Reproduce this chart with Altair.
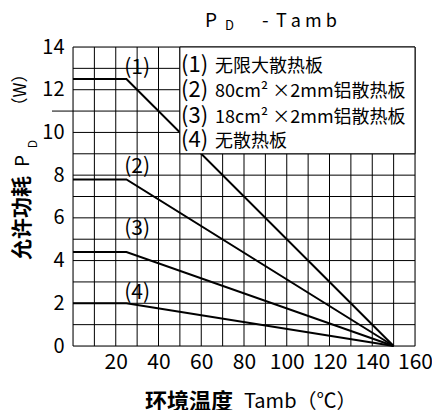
import altair as alt
import pandas as pd

# ---- data ----
temps = [0, 25, 150]
series_names = ["(1)", "(2)", "(3)", "(4)"]
series_flat = [12.5, 7.8, 4.4, 2.0]   # PD value on the flat part (W)
label_x = [30, 30, 30, 30]
label_y = [13.0, 8.4, 5.5, 2.5]
legend_keys = ["(1)", "(2)", "(3)", "(4)"]
legend_desc = ["无限大散热板", "80cm² ×2mm铝散热板", "18cm² ×2mm铝散热板", "无散热板"]
x_ticks = [20, 40, 60, 80, 100, 120, 140, 160]
y_ticks = [0, 2, 4, 6, 8, 10, 12, 14]
x_grid = list(range(0, 161, 10))
y_grid = list(range(0, 15))
box = {"x": 50, "x2": 160, "y": 9, "y2": 14}

FONT = "Noto Sans CJK SC"

rows = []
for name, v in zip(series_names, series_flat):
    for t, p in zip(temps, [v, v, 0]):
        rows.append({"s": name, "t": t, "p": p})
curves = pd.DataFrame(rows)

xs = alt.Scale(domain=[0, 160], nice=False)
ys = alt.Scale(domain=[0, 14], nice=False)

xaxis = alt.Axis(values=x_ticks, grid=False, ticks=False, domain=False, title=None,
                 labelFont=FONT, labelFontSize=21, labelColor="black", labelPadding=5,
                 labelOverlap=False, labelBound=False, labelFlush=False)
yaxis = alt.Axis(values=y_ticks, grid=False, ticks=False, domain=False, title=None,
                 labelFont=FONT, labelFontSize=20, labelColor="black", labelPadding=9,
                 labelOverlap=False, labelFlush=False)

vgrid = alt.Chart(pd.DataFrame({"g": x_grid})).mark_rule(color="black", strokeWidth=1).encode(
    x=alt.X("g:Q", scale=xs, axis=xaxis), y=alt.datum(0), y2=alt.datum(14))
hgrid = alt.Chart(pd.DataFrame({"g": y_grid})).mark_rule(color="black", strokeWidth=1).encode(
    y=alt.Y("g:Q", scale=ys, axis=yaxis), x=alt.datum(0), x2=alt.datum(160))
extra = alt.Chart(pd.DataFrame({"g": [11]})).mark_rule(color="black", strokeWidth=1).encode(
    y=alt.Y("g:Q", scale=ys), x=alt.value(-21), x2=alt.value(0))

lines = alt.Chart(curves).mark_line(color="black", strokeWidth=2).encode(
    x=alt.X("t:Q", scale=xs), y=alt.Y("p:Q", scale=ys), detail="s:N")

boxc = alt.Chart(pd.DataFrame([box])).mark_rect(fill="white", stroke="black", strokeWidth=1).encode(
    x=alt.X("x:Q", scale=xs), x2="x2:Q", y=alt.Y("y:Q", scale=ys), y2="y2:Q")

curve_labels = alt.Chart(pd.DataFrame({"t": label_x, "p": label_y, "s": series_names})).mark_text(
    font=FONT, fontSize=21, color="black").encode(
    x=alt.X("t:Q", scale=xs), y=alt.Y("p:Q", scale=ys), text="s:N")

leg_y = [25, 50, 76, 100]
leg_keys = alt.Chart(pd.DataFrame({"k": legend_keys, "yy": leg_y})).mark_text(
    font=FONT, fontSize=22, color="black", align="left", baseline="alphabetic").encode(
    x=alt.value(108), y=alt.Y("yy:Q", scale=None), text="k:N")
leg_desc = alt.Chart(pd.DataFrame({"k": legend_desc, "yy": leg_y})).mark_text(
    font=FONT, fontSize=18, color="black", align="left", baseline="alphabetic").encode(
    x=alt.value(142), y=alt.Y("yy:Q", scale=None), text="k:N")

def txt(s, x, y, size, angle=0, align="left", baseline="alphabetic", weight="normal"):
    return alt.Chart(pd.DataFrame({"k": [s]})).mark_text(
        font=FONT, fontSize=size, color="black", align=align, baseline=baseline,
        angle=angle, fontWeight=weight).encode(x=alt.value(x), y=alt.value(y), text="k:N")

title_parts = [
    txt("P", 132, -20, 19),
    txt("D", 152, -17, 13),
    txt("-", 189, -20, 19),
    txt("T a m b", 203, -20, 18),
]
ytitle = [
    txt("允许功耗", -50, 171, 21, angle=270, align="center", baseline="middle", weight="bold"),
    txt("P", -50, 114, 19, angle=270, align="center", baseline="middle"),
    txt("D", -40, 97, 12, angle=270, align="center", baseline="middle"),
    txt("（W）", -52, 43, 17, angle=270, align="center", baseline="middle"),
]
xtitle = [
    txt("环境温度", 72, 355, 22, baseline="middle", weight="bold"),
    txt("Tamb（℃）", 171, 355, 20, baseline="middle"),
]

chart = alt.layer(vgrid, hgrid, extra, lines, boxc, curve_labels, leg_keys, leg_desc,
                  *title_parts, *ytitle, *xtitle).properties(
    width=342, height=299,
    autosize=alt.AutoSizeParams(type="none"),
    padding={"left": 65, "top": 39, "right": 17, "bottom": 64},
).configure_view(stroke=None).configure(background="white")

chart.save("out.html", embed_options={"renderer": "svg", "actions": False})
